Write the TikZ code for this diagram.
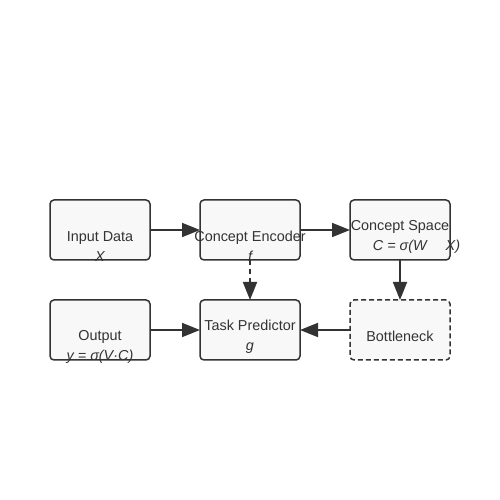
\documentclass[tikz,border=0pt]{standalone}
\usepackage{fontspec}
\setmainfont{Liberation Sans}
\usetikzlibrary{positioning,arrows.meta}
\definecolor{ink}{HTML}{333333}
\definecolor{boxfill}{HTML}{F8F8F8}

\begin{document}
\begin{tikzpicture}[
    x=1pt, y=1pt,
    node distance=50pt,
    box/.style={rectangle, rounded corners=4pt, draw=ink, fill=boxfill, line width=1.5pt, outer sep=0pt, minimum width=100pt, minimum height=60pt},
    txt/.style={align=center, text=ink, font=\fontsize{14.4}{20}\selectfont},
    arrow/.style={-{Triangle[length=18pt,width=14pt]}, line width=1.8pt, draw=ink}
]
    \useasboundingbox (0,0) rectangle (500,500);

    % Top row
    \node[box] (input) at (100,270) {};
    \node[box, right=of input] (encoder) {};
    \node[box, right=of encoder] (space) {};

    % Bottom row
    \node[box, below=40pt of input] (output) {};
    \node[box, right=of output] (predictor) {};
    \node[box, right=of predictor, dash pattern=on 5pt off 3pt] (bottleneck) {};

    % Labels
    \node[txt] (inputtxt) at ([yshift=-16.5pt]input.center) {Input Data\\\itshape X};
    \node[txt] (encodertxt) at ([yshift=-16.5pt]encoder.center) {Concept Encoder\\\itshape f};
    \node[txt] (spacetxt) at ([yshift=-6.5pt]space.center) {Concept Space\\\hspace*{33pt}\itshape C = σ(W\hspace{19pt}X)};
    \node[txt] (outputtxt) at ([yshift=-16.5pt]output.center) {Output\\\itshape y = σ(V·C)};
    \node[txt] (predictortxt) at ([yshift=-6.5pt]predictor.center) {Task Predictor\\\itshape g};
    \node[txt] (bottlenecktxt) at ([yshift=-6pt]bottleneck.center) {Bottleneck};

    % Arrows
    \draw[arrow] (input) -- (encoder);
    \draw[arrow] (encoder) -- (space);
    \draw[arrow] (space) -- (bottleneck);
    \draw[arrow, dash pattern=on 5pt off 4pt] (encoder) -- (predictor);
    \draw[arrow] (bottleneck) -- (predictor);
    \draw[arrow] (output) -- (predictor);
\end{tikzpicture}
\end{document}
